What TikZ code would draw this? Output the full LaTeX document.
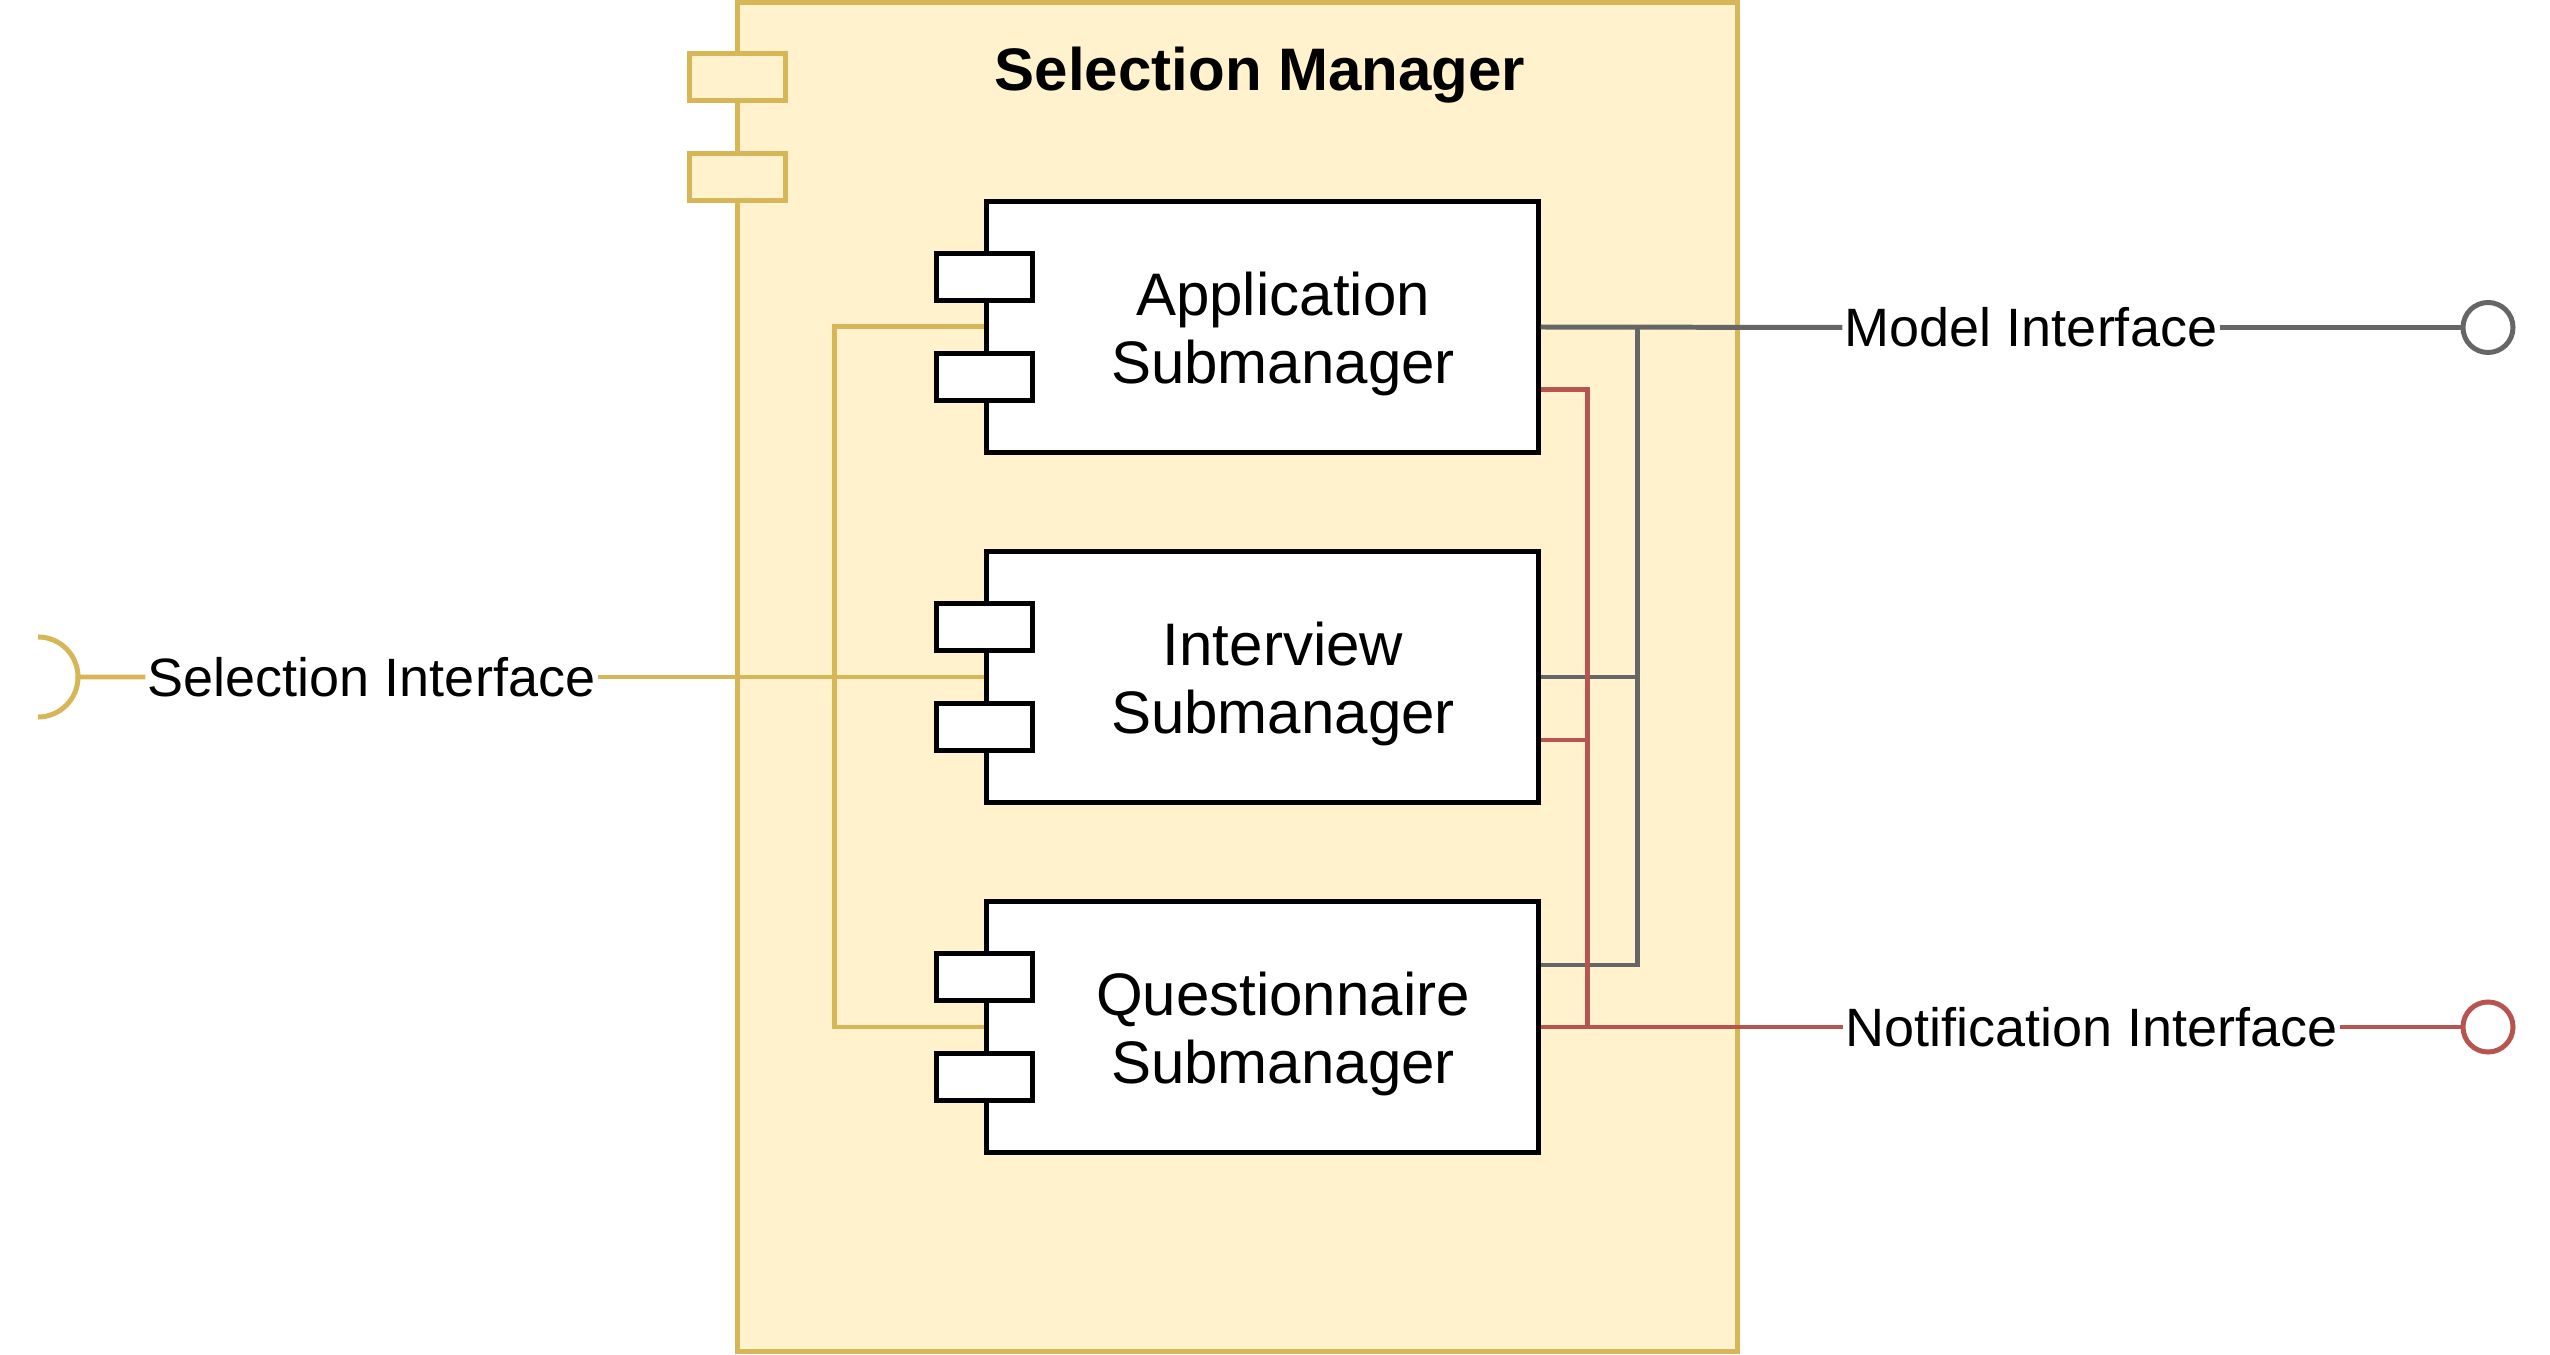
\documentclass[tikz,border=0pt]{standalone}
\usepackage{fontspec}
\setmainfont{Liberation Sans}
\usetikzlibrary{positioning,calc}
\definecolor{mgrfill}{HTML}{FFF2CC}
\definecolor{mgrline}{HTML}{D6B656}
\definecolor{modgrey}{HTML}{666666}
\definecolor{notred}{HTML}{B85450}

\begin{document}
\begin{tikzpicture}[x=0.01cm,y=-0.01cm,
    mgr/.style={draw=mgrline,fill=mgrfill,line width=1.42pt,minimum width=9.995cm,minimum height=13.49cm,inner sep=0pt},
    sub/.style={draw=black,fill=white,line width=1.42pt,minimum width=5.51cm,minimum height=2.5cm,inner sep=0pt},
    port/.style={draw=black,fill=white,line width=1.42pt,minimum width=0.96cm,minimum height=0.46cm,inner sep=0pt},
    mport/.style={port,draw=mgrline,fill=mgrfill},
    subtxt/.style={align=center,inner sep=0pt,font=\fontsize{17.07pt}{19.35pt}\selectfont},
    itxt/.style={inner sep=0.5pt,font=\fontsize{15.36pt}{18pt}\selectfont},
    lolli/.style={circle,fill=white,line width=1.42pt,minimum size=0.5cm,inner sep=0pt},
    yline/.style={draw=mgrline,line width=1.42pt},
    gline/.style={draw=modgrey,line width=1.42pt},
    rline/.style={draw=notred,line width=1.42pt}]
    \useasboundingbox (0,0) rectangle (2550,1355);

    % the manager component
    \node[mgr] (mgr) at (1237.25,677) {};
    \node[mport] (mport1) at (737.5,77) {};
    \node[mport] (mport2) at (737.5,177) {};
    \node[anchor=base,inner sep=0pt,font=\bfseries\fontsize{17.07pt}{19pt}\selectfont] (mgrtitle) at (1260,91) {Selection Manager};

    % submanagers
    \foreach \nm/\yy/\tx in {app/327/Application,intv/677/Interview,quest/1027/Questionnaire}{
        \node[sub] (\nm) at (1262.5,\yy) {};
        \node[port] (\nm port1) at ($(\nm.west)+(0,-50)$) {};
        \node[port] (\nm port2) at ($(\nm.west)+(0,50)$) {};
        \node[subtxt] (\nm txt) at ($(\nm.center)+(20.5,7)$) {\tx\\Submanager};
    }

    % interfaces
    \coordinate (gbus) at (1637,327);
    \coordinate (rbus) at (1587,1027);
    \coordinate (selsock) at (78,677);
    \node[itxt] (selint) at (371.5,677) {Selection Interface};
    \node[itxt] (modint) at (2031,327.5) {Model Interface};
    \node[itxt] (notint) at (2091.5,1027) {Notification Interface};
    \node[lolli,draw=modgrey] (modend) at (2488,327.5) {};
    \node[lolli,draw=notred] (notend) at (2488,1027) {};

    % selection interface
    \draw[yline] (app.west) -- ++(-149.5,0) |- (quest.west);
    \draw[yline] (intv.west) -- (selint.east);
    \draw[yline] (selint.west) -- (selsock) arc[start angle=0,end angle=90,radius=0.4cm];
    \draw[yline] (selsock) arc[start angle=0,end angle=-90,radius=0.4cm];

    % model interface
    \draw[gline] (app.east) -- (modint.west);
    \draw[gline] (modint.east) -- (modend.west);
    \draw[gline] (intv.east) -- (intv.east -| gbus);
    \draw[gline] (quest.east) ++(0,-62) -| (gbus);

    % notification interface
    \draw[rline] (quest.east) -- (notint.west);
    \draw[rline] (notint.east) -- (notend.west);
    \draw[rline] (app.east) ++(0,63) -| (rbus);
    \draw[rline] (intv.east) ++(0,63) -- ++(49,0);
\end{tikzpicture}
\end{document}
